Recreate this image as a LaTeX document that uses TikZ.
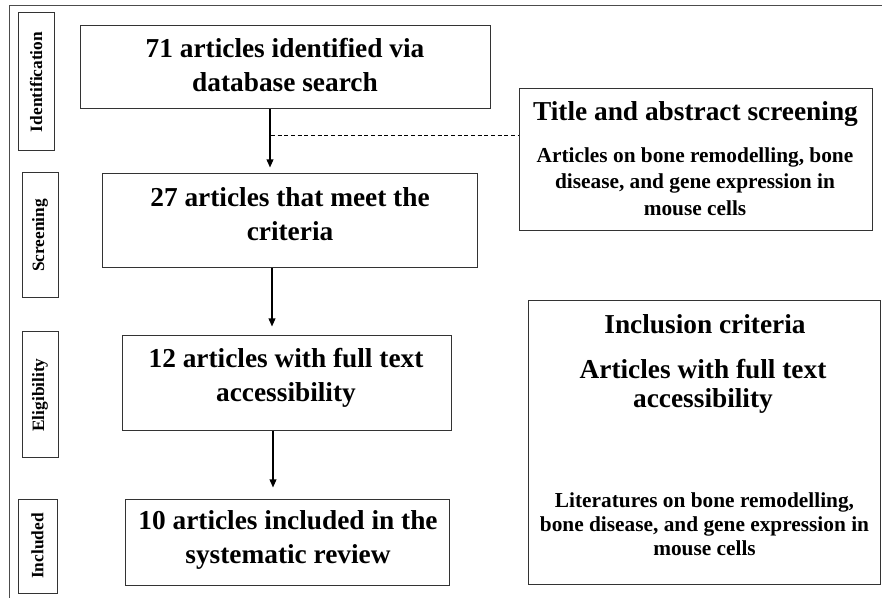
\documentclass[tikz,border=0pt]{standalone}
\usepackage{fontspec}
\setmainfont{Liberation Serif}
\usetikzlibrary{fit,arrows.meta}
\begin{document}
\begin{tikzpicture}[x=0.75pt,y=-0.75pt,
  box/.style={draw=black!80,line width=0.75pt,inner sep=0pt},
  big/.style={font=\bfseries\fontsize{20.5}{25.5}\selectfont,align=center,inner sep=0pt},
  bigtight/.style={font=\bfseries\fontsize{20.5}{22}\selectfont,align=center,inner sep=0pt},
  mid/.style={font=\bfseries\fontsize{16}{20}\selectfont,align=center,inner sep=0pt},
  midtight/.style={font=\bfseries\fontsize{16}{18}\selectfont,align=center,inner sep=0pt},
  side/.style={font=\bfseries\fontsize{13}{15}\selectfont,inner sep=0pt,rotate=90},
  flow/.style={line width=1.1pt,-{Triangle[length=6pt,width=5pt]}},
  guide/.style={dash pattern=on 3pt off 2pt,line width=0.6pt},
  frame/.style={draw=black!70,line width=0.9pt}]
\useasboundingbox (0,0) rectangle (882,598);
\draw[frame] (9.5,598) -- (9.5,5.5) -- (882,5.5);

% stage labels
\node[box,fit={(18,13)(54,151)}] (sid) {};
\node[side] (tid) at (sid.center) {Identification};
\node[box,fit={(22,173)(58,298)}] (ssc) {};
\node[side] (tsc) at (ssc.center) {Screening};
\node[box,fit={(22,332)(58,458)}] (sel) {};
\node[side] (tel) at (sel.center) {Eligibility};
\node[box,fit={(18,499)(57,593)}] (sin) {};
\node[side] (tin) at (sin.center) {Included};

% main flow
\node[box,fit={(80,26)(490,109)}] (b1) {};
\node[big] (t1) at (285,65.5) {71 articles identified via\\database search};
\node[box,fit={(102,174)(477,268)}] (b2) {};
\node[big] (t2) at (290,214) {27 articles that meet the\\criteria};
\node[box,fit={(122,336)(451,431)}] (b3) {};
\node[big] (t3) at (286,378) {12 articles with full text\\accessibility};
\node[box,fit={(125,499)(449,585)}] (b4) {};
\node[big] (t4) at (288,540) {10 articles included in the\\systematic review};

% right boxes
\node[box,fit={(519,89)(872,231)}] (tb) {};
\node[big] (tt) at (695.5,114) {Title and abstract screening};
\node[mid] (ts) at (695,181.5) {Articles on bone remodelling, bone\\disease, and gene expression in\\mouse cells};
\node[box,fit={(528,301)(880.5,584)}] (ib) {};
\node[big] (it) at (705,324) {Inclusion criteria};
\node[bigtight] (ia) at (703,386) {Articles with full text\\accessibility};
\node[midtight] (il) at (704.5,524) {Literatures on bone remodelling,\\bone disease, and gene expression in\\mouse cells};

% connectors
\coordinate (ax1) at (270,0);
\coordinate (ax2) at (272,0);
\coordinate (ax3) at (273,0);
\draw[flow,shorten >=4.5pt] (b1.south -| ax1) -- (b2.north -| ax1);
\draw[flow,shorten >=6.75pt] (b2.south -| ax2) -- (b3.north -| ax2);
\draw[flow,shorten >=8.25pt] (b3.south -| ax3) -- (b4.north -| ax3);
\coordinate (dj) at (271,135);
\draw[guide] (dj) -- (dj -| tb.west);
\end{tikzpicture}
\end{document}
